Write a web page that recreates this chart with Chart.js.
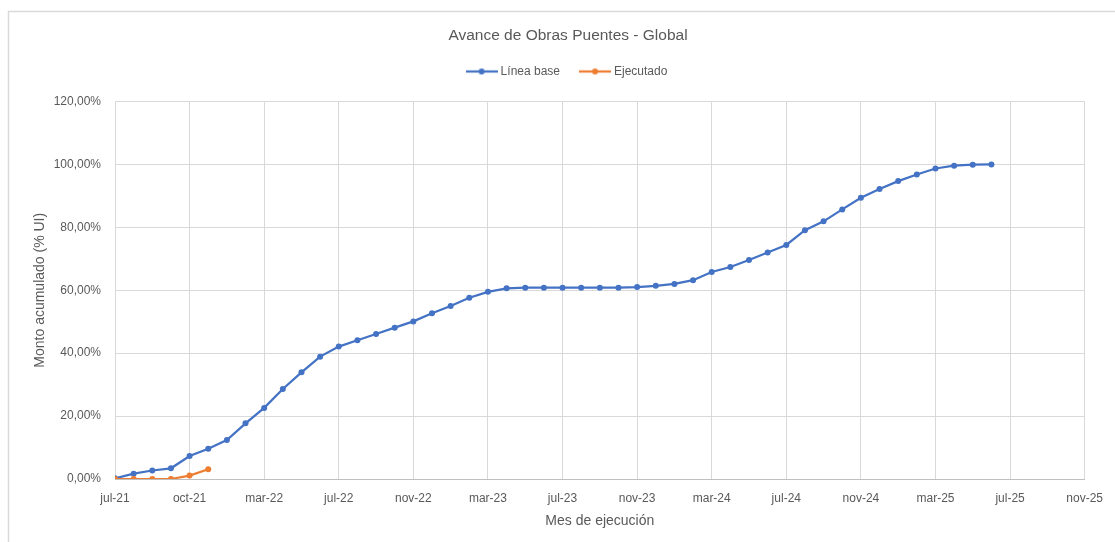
<!DOCTYPE html>
<html>
<head>
<meta charset="utf-8">
<script src="https://cdn.jsdelivr.net/npm/chart.js@4"></script>
<style>
  body { margin: 0; background: #fff; }
</style>
</head>
<body>
<canvas id="grafico" width="1115" height="542"></canvas>
<script>
// datos (% acumulado por mes, desde jul-21)
const xTickLabels = ["jul-21", "oct-21", "mar-22", "jul-22", "nov-22", "mar-23", "jul-23",
  "nov-23", "mar-24", "jul-24", "nov-24", "mar-25", "jul-25", "nov-25"];

const lineaBase = [0.2, 1.7, 2.7, 3.4, 7.3, 9.6, 12.4, 17.7, 22.6, 28.6, 33.9, 38.9,
  42.1, 44.1, 46.1, 48.1, 50.1, 52.7, 55.0, 57.6, 59.5, 60.6, 60.8, 60.8,
  60.8, 60.8, 60.8, 60.8, 61.0, 61.4, 62.0, 63.2, 65.8, 67.4, 69.6, 72.0,
  74.4, 79.1, 81.9, 85.7, 89.4, 92.2, 94.7, 96.8, 98.7, 99.6, 99.9, 100.0];

const ejecutado = [0, 0, 0, 0, 1.1, 3.1];

const AZUL = "#4472C4";
const NARANJA = "#ED7D31";
const TEXTO = "#595959";
const FUENTE = "'Liberation Sans', Arial, sans-serif";

// icono de leyenda: línea con punto al centro
function iconoLeyenda(color) {
  const c = document.createElement("canvas");
  c.width = 32;
  c.height = 8;
  const g = c.getContext("2d");
  g.strokeStyle = color;
  g.lineWidth = 2.25;
  g.beginPath();
  g.moveTo(0, 4);
  g.lineTo(32, 4);
  g.stroke();
  g.fillStyle = color;
  g.beginPath();
  g.arc(16, 4, 3, 0, Math.PI * 2);
  g.fill();
  return c;
}
const iconos = [iconoLeyenda(AZUL), iconoLeyenda(NARANJA)];

// borde del área del gráfico (estilo Excel)
const bordeGrafico = {
  id: "bordeGrafico",
  beforeDraw(chart) {
    const g = chart.ctx;
    g.save();
    g.strokeStyle = "#d9d9d9";
    g.lineWidth = 1.5;
    g.beginPath();
    g.moveTo(8.5, chart.height);
    g.lineTo(8.5, 11.5);
    g.lineTo(chart.width, 11.5);
    g.stroke();
    g.restore();
  },
};

const ctx = document.getElementById("grafico");

new Chart(ctx, {
  type: "line",
  data: {
    datasets: [
      {
        label: "Línea base",
        data: lineaBase.map((v, i) => ({ x: i, y: v })),
        borderColor: AZUL,
        backgroundColor: AZUL,
        borderWidth: 2.25,
        pointRadius: 3,
        pointBorderWidth: 0,
        pointBackgroundColor: AZUL,
        order: 1,
      },
      {
        label: "Ejecutado",
        data: ejecutado.map((v, i) => ({ x: i, y: v })),
        borderColor: NARANJA,
        backgroundColor: NARANJA,
        borderWidth: 2.25,
        pointRadius: 3,
        pointBorderWidth: 0,
        pointBackgroundColor: NARANJA,
        order: 0,
      },
    ],
  },
  options: {
    responsive: false,
    animation: false,
    layout: { padding: { left: 51, right: 30, top: 0, bottom: 0 } },
    scales: {
      x: {
        type: "linear",
        min: 0,
        max: 52,
        afterFit(scale) {
          scale.height = 63;
        },
        ticks: {
          stepSize: 4,
          padding: 12,
          color: TEXTO,
          font: { family: FUENTE, size: 12 },
          maxRotation: 0,
          autoSkip: false,
          callback: (v) => xTickLabels[v / 4],
        },
        grid: { color: "#d9d9d9", drawTicks: false },
        border: { color: "#bfbfbf" },
        title: {
          display: true,
          text: "Mes de ejecución",
          color: TEXTO,
          font: { family: FUENTE, size: 14 },
          padding: { top: 0, bottom: 12 },
        },
      },
      y: {
        min: 0,
        max: 120,
        afterFit(scale) {
          scale.width = 64;
        },
        ticks: {
          stepSize: 20,
          padding: 14,
          color: TEXTO,
          font: { family: FUENTE, size: 12 },
          callback: (v) => v.toFixed(2).replace(".", ",") + "%",
        },
        grid: { color: "#d9d9d9", drawTicks: false },
        border: { display: false },
        title: {
          display: true,
          text: "Monto acumulado (% UI)",
          color: TEXTO,
          font: { family: FUENTE, size: 14 },
          padding: { top: -19.4, bottom: 0 },
        },
      },
    },
    plugins: {
      title: {
        display: true,
        text: "Avance de Obras Puentes - Global",
        color: TEXTO,
        font: { family: FUENTE, size: 15.5, weight: "normal", lineHeight: 1 },
        padding: { top: 28, bottom: 0 },
      },
      // caja vacía entre la leyenda y el área de trazado
      subtitle: {
        display: true,
        text: "",
        weight: 500,
        font: { size: 1, lineHeight: 1 },
        padding: { top: 0, bottom: 13 },
      },
      legend: {
        position: "top",
        labels: {
          usePointStyle: true,
          pointStyleWidth: 26,
          padding: 22,
          color: TEXTO,
          font: { family: FUENTE, size: 12 },
          sort: (a, b) => a.datasetIndex - b.datasetIndex,
          generateLabels(chart) {
            const items = Chart.defaults.plugins.legend.labels.generateLabels(chart);
            items.forEach((it) => {
              it.pointStyle = iconos[it.datasetIndex];
            });
            return items;
          },
        },
      },
      tooltip: { enabled: false },
    },
  },
  plugins: [bordeGrafico],
});
</script>
</body>
</html>
